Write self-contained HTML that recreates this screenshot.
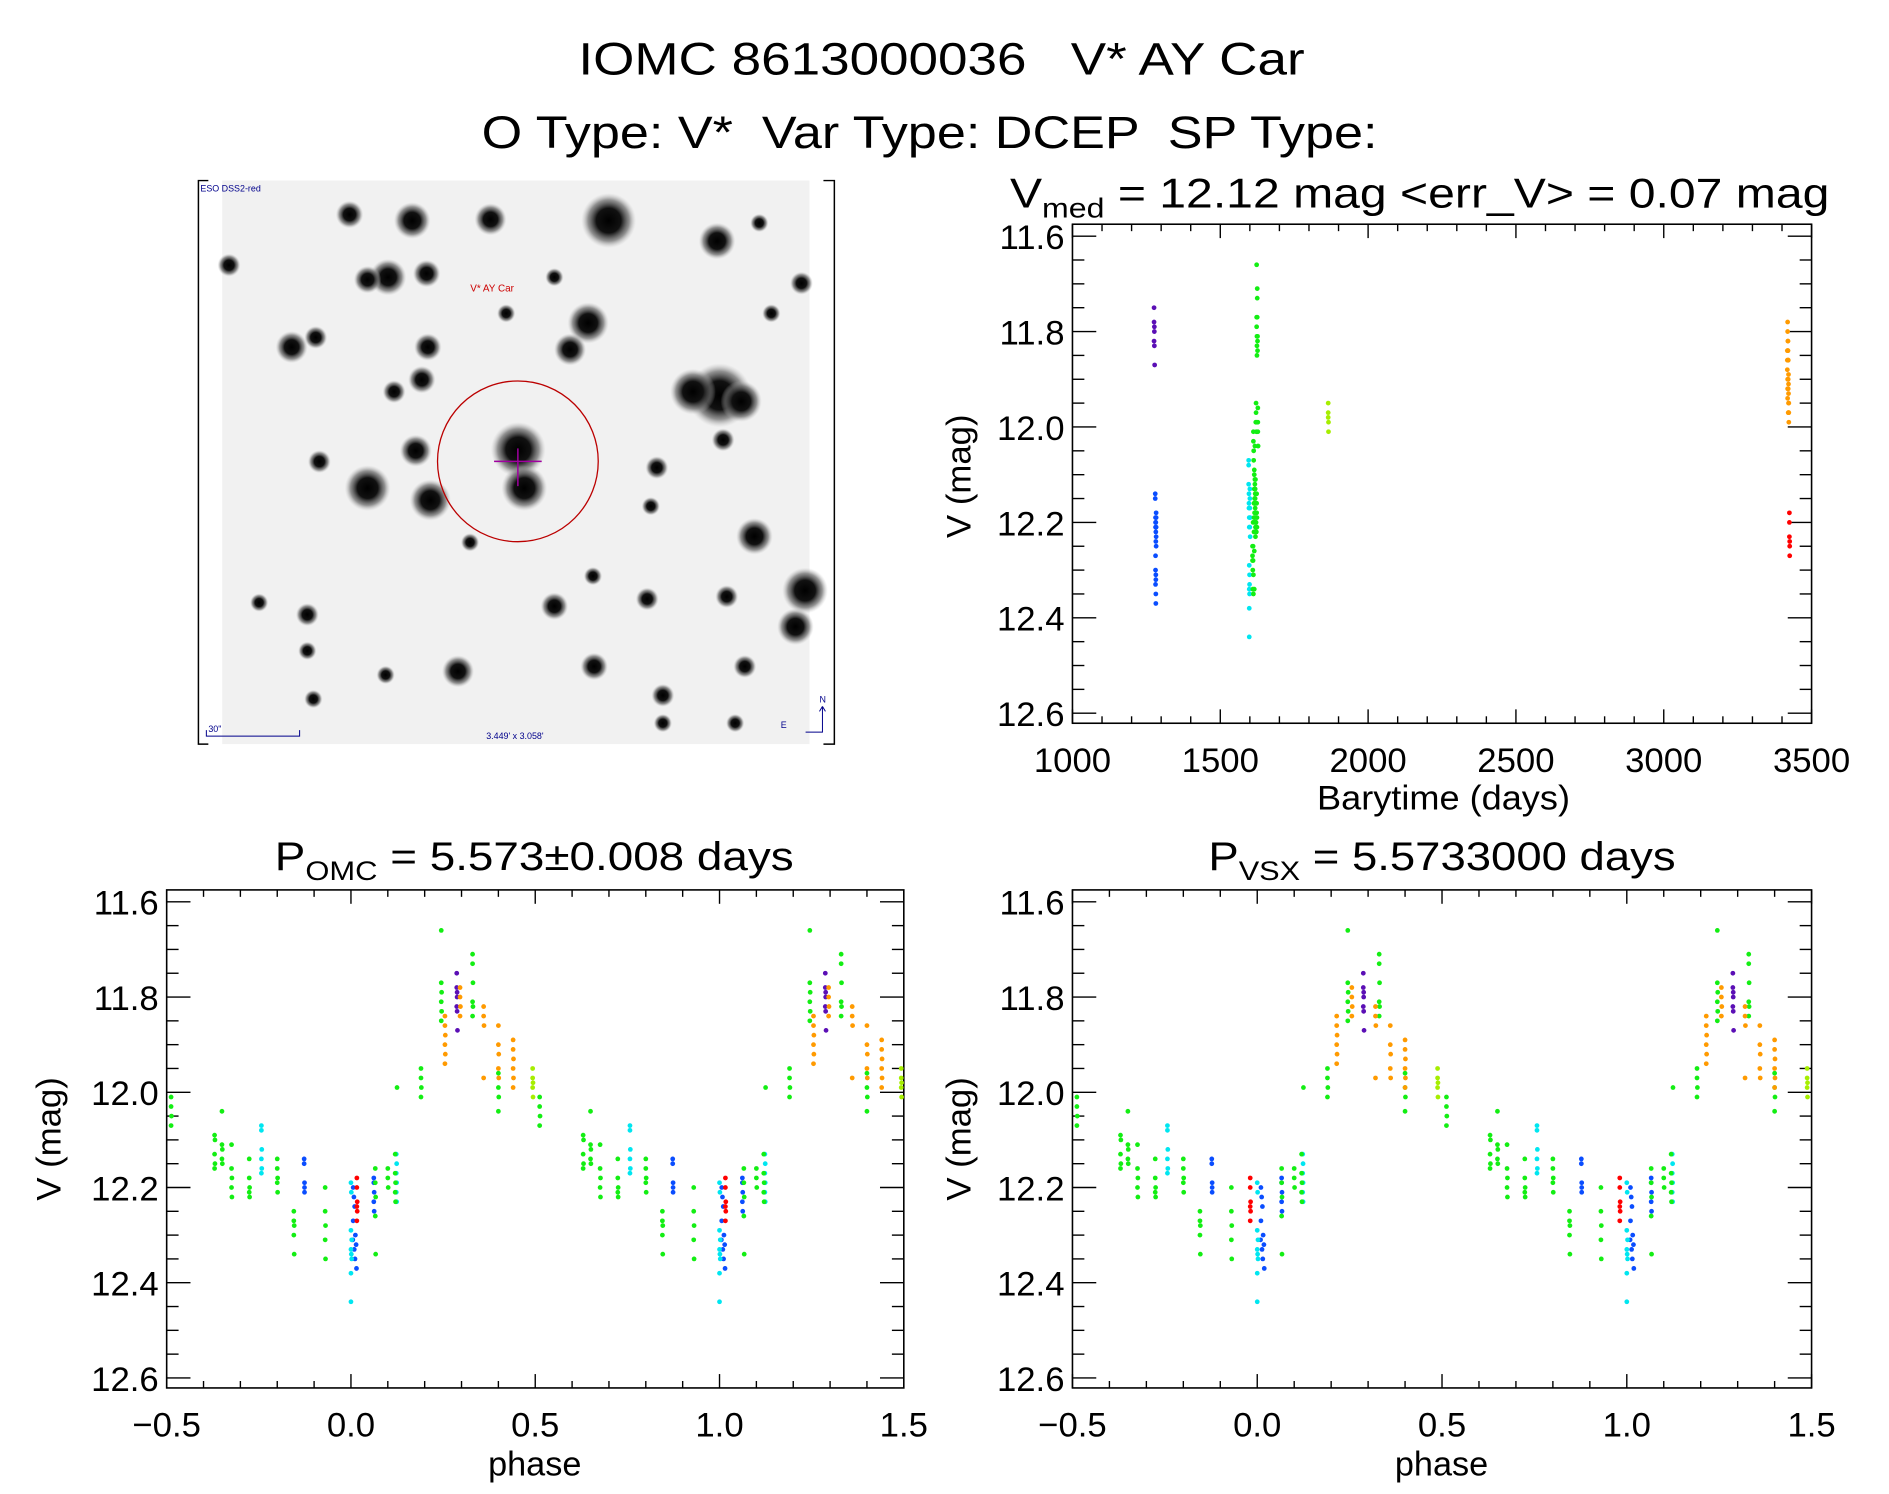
<!DOCTYPE html>
<html><head><meta charset="utf-8"><style>
html,body{margin:0;padding:0;background:#fff}
svg{display:block}
text{font-family:"Liberation Sans",sans-serif;fill:#000}
</style></head><body>
<svg id="root" xmlns="http://www.w3.org/2000/svg" width="1889" height="1494" viewBox="0 0 1889 1494">
<defs>
<radialGradient id="star"><stop offset="0" stop-color="#000"/><stop offset="0.45" stop-color="#111"/><stop offset="0.75" stop-color="#666" stop-opacity="0.7"/><stop offset="1" stop-color="#bbb" stop-opacity="0"/></radialGradient>
</defs>
<g transform="scale(0.9921)">
<text x="949" y="75" font-size="46" text-anchor="middle" textLength="732" lengthAdjust="spacingAndGlyphs" xml:space="preserve">IOMC 8613000036   V* AY Car</text>
<text x="937" y="149" font-size="46" text-anchor="middle" textLength="903" lengthAdjust="spacingAndGlyphs" xml:space="preserve">O Type: V*  Var Type: DCEP  SP Type:</text>

<g id="sky"></g>
<g id="p1"></g>
<g id="p2"></g>
<g id="p3"></g>
</g>
</svg>
<script>
// ---- data: [barytime, phase(OMC), V mag] per observation group ----
const purple = [[1276,0.287,11.75],[1276,0.287,11.78],[1277,0.288,11.79],[1277,0.288,11.80],[1276,0.287,11.82],[1277,0.288,11.83],[1278,0.289,11.87]];
const blue = [[1280,0.873,12.14],[1280,0.873,12.15],[1281,0.874,12.19],[1281,0.874,12.20],[1281,0.874,12.21],
 [1282,0.006,12.20],[1282,0.008,12.22],[1282,0.010,12.24],[1281,0.006,12.27],[1281,0.012,12.30],[1282,0.005,12.31],[1282,0.014,12.32],[1281,0.009,12.33],[1282,0.011,12.35],[1282,0.015,12.37],
 [1283,0.062,12.18],[1283,0.062,12.19],[1283,0.063,12.21],[1283,0.062,12.23],[1283,0.063,12.25]];
const cyan = [[1596,0.757,12.07],[1596,0.757,12.08],[1596,0.758,12.12],[1597,0.757,12.14],[1597,0.758,12.16],[1597,0.757,12.17],
 [1598,0.000,12.19],[1598,0.001,12.21],[1598,0.000,12.29],[1599,0.002,12.31],[1599,0.000,12.33],[1598,0.001,12.34],[1599,0.002,12.35],[1598,0.000,12.38],[1598,0.000,12.44],
 [1600,0.123,12.13],[1600,0.124,12.15],[1600,0.123,12.17],[1601,0.124,12.19],[1600,0.123,12.21],[1601,0.124,12.23]];
const green = [[1612,0.512,12.01],[1612,0.512,12.03],[1613,0.513,12.05],[1613,0.512,12.07],
 [1615,0.630,12.09],[1615,0.631,12.10],[1615,0.630,12.13],[1616,0.631,12.15],[1616,0.630,12.16],
 [1617,0.650,12.04],[1617,0.650,12.11],[1617,0.651,12.12],[1618,0.650,12.14],[1618,0.651,12.15],
 [1619,0.676,12.11],[1619,0.676,12.16],[1619,0.677,12.18],[1620,0.676,12.20],[1620,0.677,12.22],
 [1621,0.724,12.14],[1621,0.724,12.18],[1621,0.725,12.20],[1622,0.724,12.21],[1622,0.725,12.22],
 [1623,0.800,12.14],[1623,0.800,12.16],[1623,0.801,12.18],[1624,0.800,12.19],[1624,0.801,12.21],
 [1609,0.845,12.25],[1609,0.845,12.27],[1609,0.846,12.28],[1610,0.845,12.30],[1610,0.846,12.34],
 [1611,0.930,12.20],[1611,0.930,12.25],[1611,0.931,12.28],[1612,0.930,12.31],[1612,0.931,12.35],
 [1614,0.066,12.16],[1614,0.066,12.19],[1614,0.067,12.22],[1615,0.066,12.26],[1615,0.067,12.34],
 [1616,0.100,12.16],[1616,0.100,12.18],[1616,0.101,12.20],
 [1618,0.120,12.13],[1618,0.120,12.17],[1618,0.121,12.19],[1619,0.120,12.21],[1619,0.121,12.23],[1620,0.125,11.99],
 [1621,0.190,11.95],[1621,0.190,11.97],[1622,0.191,11.99],[1622,0.190,12.01],
 [1623,0.245,11.66],[1623,0.245,11.77],[1623,0.246,11.79],[1624,0.245,11.81],[1624,0.246,11.83],[1624,0.245,11.85],
 [1625,0.330,11.71],[1625,0.330,11.73],[1625,0.331,11.77],[1626,0.330,11.81],[1626,0.331,11.82],[1626,0.330,11.84],
 [1627,0.400,11.96],[1627,0.400,11.99],[1627,0.401,12.01],[1628,0.400,12.04]];
const yellowGreen = [[1865,0.493,11.95],[1865,0.493,11.97],[1865,0.494,11.98],[1866,0.493,11.99],[1866,0.494,12.01]];
const orange = [[3418,0.255,11.84],[3418,0.255,11.86],[3418,0.256,11.88],[3419,0.255,11.90],[3419,0.256,11.92],[3419,0.255,11.94],
 [3419,0.296,11.78],[3419,0.296,11.80],[3420,0.297,11.82],[3420,0.296,11.84],
 [3420,0.360,11.82],[3420,0.360,11.84],[3421,0.361,11.86],[3421,0.360,11.97],
 [3421,0.400,11.86],[3421,0.400,11.90],[3421,0.401,11.92],[3422,0.400,11.95],[3422,0.401,11.97],
 [3422,0.440,11.89],[3422,0.440,11.91],[3422,0.441,11.93],[3423,0.440,11.95],[3423,0.441,11.97],[3423,0.440,11.99]];
const red = [[3425,0.016,12.18],[3425,0.016,12.20],[3425,0.017,12.23],[3426,0.016,12.24],[3426,0.017,12.25],[3426,0.016,12.27]];
const groupNames = ['purple','blue','cyan','green','yellow-green','orange','red'];
const groupData = [purple, blue, cyan, green, yellowGreen, orange, red];
const vsxPhaseShift = [0.0, 0.004, 0.0, 0.0, -0.005, -0.04, -0.035];
const yTicks = [11.6, 11.8, 12.0, 12.2, 12.4, 12.6];
const yTickLabels = ['11.6','11.8','12.0','12.2','12.4','12.6'];
const timeTicks = [1000,1500,2000,2500,3000,3500];
const timeTickLabels = ['1000','1500','2000','2500','3000','3500'];
const phaseTicks = [-0.5,0,0.5,1.0,1.5];
const phaseTickLabels = ['\u22120.5','0.0','0.5','1.0','1.5'];

const colors = ['#5b0fb5','#0a4dff','#00e6f0','#13ee13','#a6ee00','#ff9a00','#ff0000'];
const NS='http://www.w3.org/2000/svg';
function mk(tag, attrs, parent){const e=document.createElementNS(NS,tag);for(const k in attrs)e.setAttribute(k,attrs[k]);if(parent)parent.appendChild(e);return e;}

function axes(g, box, xDom, yDom, xT, xL, xMinor, yMinor){
  const [L,T,R,B]=box;
  const sx=v=>L+(v-xDom[0])/(xDom[1]-xDom[0])*(R-L);
  const sy=v=>T+(v-yDom[0])/(yDom[1]-yDom[0])*(B-T);
  const fr=mk('rect',{x:L,y:T,width:R-L,height:B-T,fill:'none',stroke:'#000','stroke-width':1.6},g);
  
  
  for(let v=xDom[0]; v<=xDom[1]+1e-9; v+=xMinor){
    const major = xT.some(t=>Math.abs(t-v)<1e-6);
    const len = major?14:7, x=sx(v);
    mk('line',{x1:x,y1:B,x2:x,y2:B-len,stroke:'#000','stroke-width':1.4},g);
    mk('line',{x1:x,y1:T,x2:x,y2:T+len,stroke:'#000','stroke-width':1.4},g);
  }
  for(let v=11.6; v<=12.6+1e-9; v+=yMinor){
    const major = yTicks.some(t=>Math.abs(t-v)<1e-6);
    const len = major?24:12, y=sy(v);
    mk('line',{x1:L,y1:y,x2:L+len,y2:y,stroke:'#000','stroke-width':1.4},g);
    mk('line',{x1:R,y1:y,x2:R-len,y2:y,stroke:'#000','stroke-width':1.4},g);
  }
  xT.forEach((t,i)=>{
    const tx=mk('text',{x:sx(t),y:B+49,'font-size':35,'text-anchor':'middle'},g);
    tx.textContent=xL[i];
    
    
  });
  yTicks.forEach((t,i)=>{
    const ty=mk('text',{x:L-8,y:sy(t)+13,'font-size':35,'text-anchor':'end'},g);
    ty.textContent=yTickLabels[i];
    
    
  });
  return {sx,sy};
}
function dot(g,x,y,c,name){
  const d=mk('circle',{cx:x,cy:y,r:2.4,fill:c},g);
  
  
}
function ylabel(g,x,y){
  const t=mk('text',{x:0,y:0,'font-size':35,'text-anchor':'middle',transform:`translate(${x},${y}) rotate(-90)`},g);
  t.textContent='V (mag)';
  
  
}
function label(g,x,y,txt,name,len){
  const t=mk('text',{x:x,y:y,'font-size':35,'text-anchor':'middle'},g);
  t.textContent=txt;
  if(len){t.setAttribute('textLength',len);t.setAttribute('lengthAdjust','spacingAndGlyphs');}
  
  
  return t;
}
const yDom=[11.575,12.621];

// time plot
(function(){
  const g=document.getElementById('p1');
  const a=axes(g,[1081,226,1826,729],[1000,3500],yDom,timeTicks,timeTickLabels,100,0.05);
  groupData.forEach((arr,gi)=>arr.forEach(p=>dot(g,a.sx(p[0]),a.sy(p[2]),colors[gi],'point-'+groupNames[gi])));
  const t=mk('text',{x:1018,y:209,'font-size':42},g);
  
  
  t.innerHTML='V<tspan font-size="28" dy="10">med</tspan><tspan dy="-10" xml:space="preserve"> = 12.12 mag &lt;err_V&gt; = 0.07 mag</tspan>';
  t.setAttribute('textLength',826);t.setAttribute('lengthAdjust','spacingAndGlyphs');
  label(g,1455,816,'Barytime (days)','x-axis-title',255);
  ylabel(g,978,480);
})();

function phasePlot(id,box,shiftArr,titleHTML,tx,tlen,lx,px){
  const g=document.getElementById(id);
  const a=axes(g,box,[-0.5,1.5],yDom,phaseTicks,phaseTickLabels,0.1,0.05);
  groupData.forEach((arr,gi)=>arr.forEach(p=>{
    const ph=p[1]+shiftArr[gi];
    [-1,0,1].forEach(k=>{const v=ph+k; if(v>=-0.5&&v<=1.5) dot(g,a.sx(v),a.sy(p[2]),colors[gi],'phase-point-'+groupNames[gi]);});
  }));
  const t=mk('text',{x:tx,y:877,'font-size':40},g);
  
  
  t.innerHTML=titleHTML;
  t.setAttribute('textLength',tlen);t.setAttribute('lengthAdjust','spacingAndGlyphs');
  label(g,px,1487,'phase','x-axis-title',94);
  ylabel(g,lx,1148);
}
phasePlot('p2',[168,897,911,1399],[0,0,0,0,0,0,0],'P<tspan font-size="27" dy="10">OMC</tspan><tspan dy="-10" xml:space="preserve"> = 5.573±0.008 days</tspan>',277,523,61,539);
phasePlot('p3',[1081,897,1826,1399],vsxPhaseShift,'P<tspan font-size="27" dy="10">VSX</tspan><tspan dy="-10" xml:space="preserve"> = 5.5733000 days</tspan>',1218,471,978,1453);

// sky image
(function(){
  const g=document.getElementById('sky');
  mk('rect',{x:224,y:182,width:592,height:568,fill:'#f1f1f1'},g);
  mk('path',{d:'M210 182 H200 V750 H210 M830 182 H841 V750 H830',fill:'none',stroke:'#000','stroke-width':1.5},g);
  const stars=[[505,183,12],[595,200,8],[342,183,8],[407,182,7],[290,178,6],[322,230,8],[305,232,6],[354,227,6],[488,268,9],[473,290,7],[355,288,6],[242,288,7],[262,280,5],[350,315,6],[327,325,5],[597,328,14],[575,325,10],[615,333,9],[430,373,12],[435,405,10],[345,374,7],[305,405,10],[357,415,9],[265,383,5],[626,445,8],[545,388,5],[460,503,6],[537,497,5],[603,495,5],[492,478,4],[380,557,7],[493,553,6],[550,577,5],[618,553,5],[255,510,5],[255,540,4],[215,500,4],[660,520,8],[668,490,10],[190,220,5],[640,260,4],[460,230,4],[420,260,4],[390,450,4],[320,560,4],[540,420,4],[630,185,4],[665,235,5],[600,365,5],[260,580,4],[610,600,4],[550,600,4]];
  const sg=mk('g',{transform:'scale(1.2148)'},g);
  stars.forEach(s=>{const c=mk('circle',{cx:s[0],cy:s[1],r:s[2]*1.9,fill:'url(#star)'},sg);
    
    });
  const ring=mk('circle',{cx:522,cy:465,r:81,fill:'none',stroke:'#b00','stroke-width':1.3},g);
  
  
  mk('path',{d:'M498 465 H546 M522 452 V490',stroke:'#a000a0','stroke-width':1.5},g);
  const t1=mk('text',{x:202,y:193,'font-size':9,fill:'#00008b'},g);t1.textContent='ESO DSS2-red';t1.style.fill='#00008b';
  
  const t2=mk('text',{x:474,y:294,'font-size':10},g);t2.textContent='V* AY Car';t2.style.fill='#c00';
  
  mk('path',{d:'M208 736 V742 H302 V736',stroke:'#00008b',fill:'none','stroke-width':1},g);
  const t3=mk('text',{x:210,y:738,'font-size':9},g);t3.textContent='30"';t3.style.fill='#00008b';
  
  const t4=mk('text',{x:519,y:745,'font-size':9,'text-anchor':'middle'},g);t4.textContent="3.449' x 3.058'";t4.style.fill='#00008b';
  
  mk('path',{d:'M829 712 V738 H812 M829 712 l-3 5 M829 712 l3 5',stroke:'#00008b',fill:'none','stroke-width':1},g);
  const t5=mk('text',{x:826,y:708,'font-size':9},g);t5.textContent='N';t5.style.fill='#00008b';
  const t6=mk('text',{x:787,y:734,'font-size':9},g);t6.textContent='E';t6.style.fill='#00008b';
})();
</script>
</body></html>
